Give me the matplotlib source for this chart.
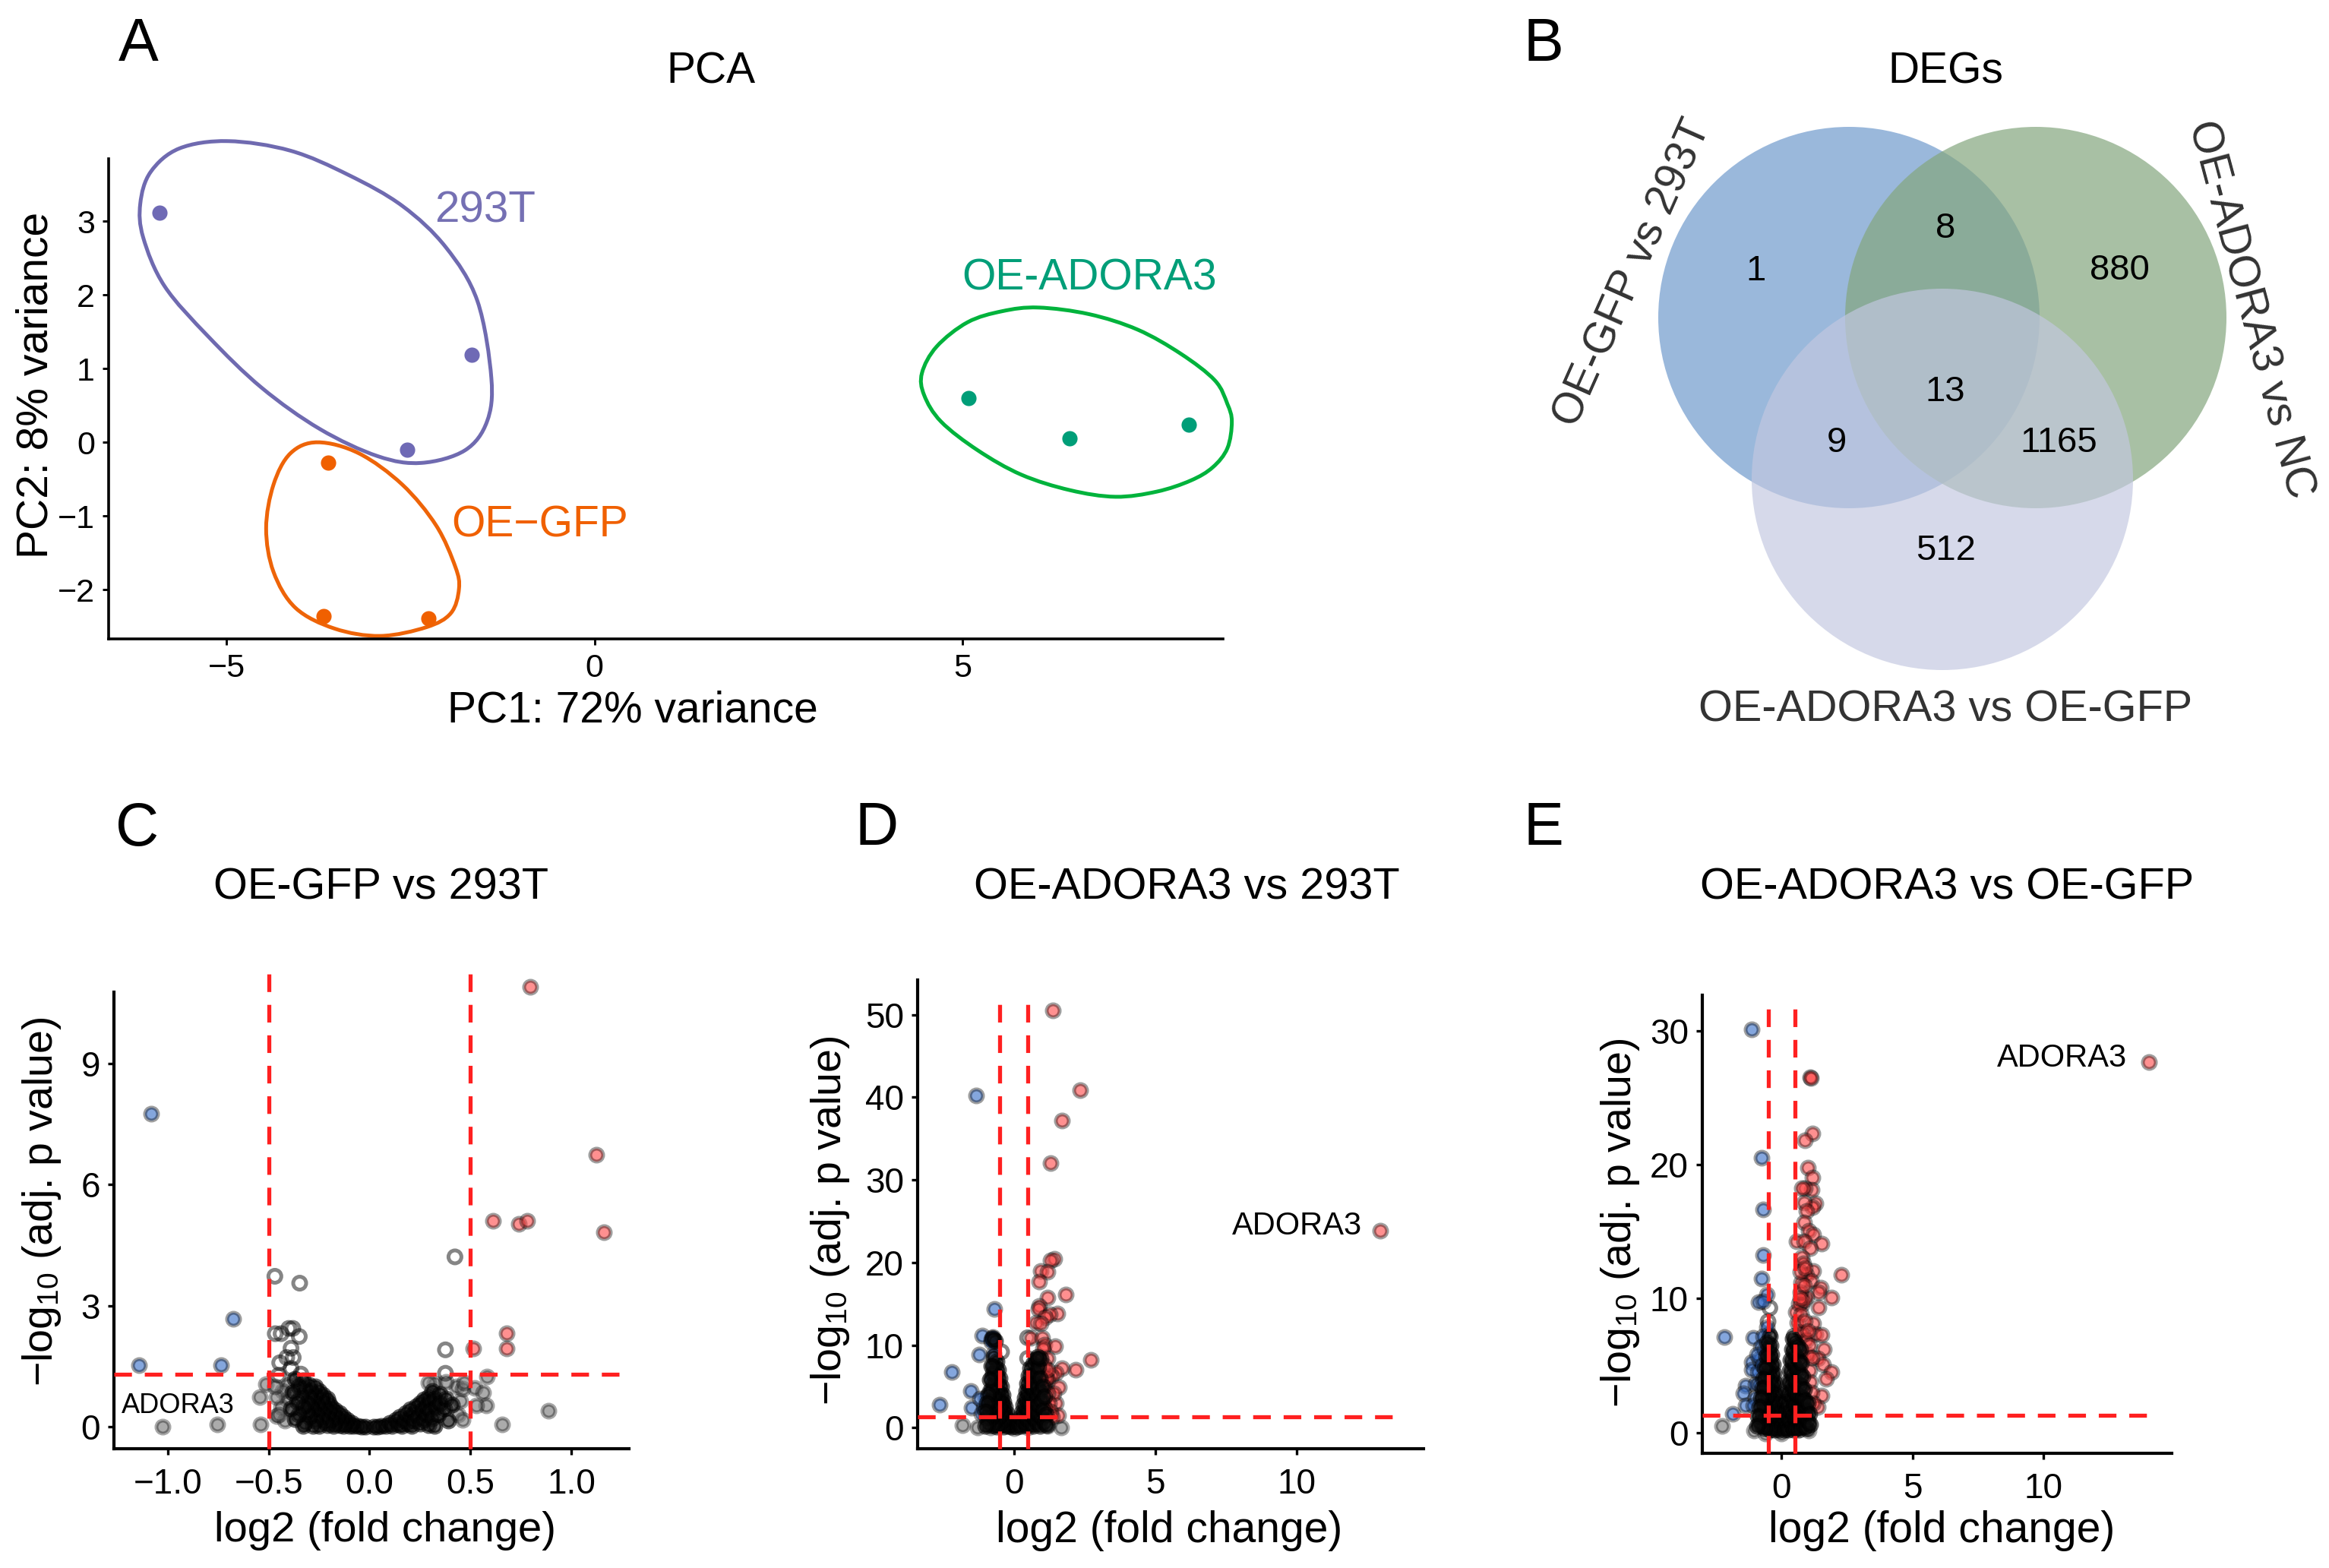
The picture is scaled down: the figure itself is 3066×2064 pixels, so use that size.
"""
Figure : PCA, Venn des DEGs et trois volcano plots (OE-GFP / OE-ADORA3 / 293T).
"""
import matplotlib
matplotlib.use("Agg")
import matplotlib.pyplot as plt
from matplotlib.patches import Circle, PathPatch
from matplotlib.path import Path

plt.rcParams["font.family"] = ["Liberation Sans", "DejaVu Sans"]
plt.rcParams["mathtext.fontset"] = "custom"
plt.rcParams["mathtext.rm"] = "Liberation Sans"
plt.rcParams["mathtext.default"] = "regular"

W, H = 3066, 2064

# -- PCA --
pca_293t = [(-5.91, 3.12), (-1.67, 1.19), (-2.54, -0.10)]
pca_gfp = [(-3.62, -0.28), (-3.68, -2.36), (-2.25, -2.39)]
pca_adora3 = [(5.08, 0.60), (6.46, 0.05), (8.08, 0.24)]

outline_293t = [(-4.98, 4.09), (-4.13, 3.96), (-3.34, 3.63), (-2.61, 3.21), (-2.02, 2.65),
                (-1.59, 1.92), (-1.40, 0.87), (-1.46, 0.28), (-1.76, -0.11), (-2.35, -0.28),
                (-2.94, -0.19), (-3.73, 0.18), (-4.52, 0.74), (-5.24, 1.43), (-5.84, 2.12),
                (-6.13, 2.78), (-6.17, 3.24), (-6.03, 3.67), (-5.64, 3.99)]
outline_gfp = [(-3.76, 0.0), (-3.2, -0.15), (-2.61, -0.575), (-2.15, -1.13), (-1.89, -1.69),
               (-1.84, -1.99), (-1.95, -2.32), (-2.28, -2.51), (-2.91, -2.63), (-3.53, -2.53),
               (-4.06, -2.25), (-4.36, -1.76), (-4.46, -1.17), (-4.36, -0.575), (-4.13, -0.15)]
outline_adora3 = [(6.03, 1.83), (6.72, 1.74), (7.38, 1.53), (7.97, 1.20), (8.43, 0.84),
                  (8.60, 0.52), (8.66, 0.28), (8.60, -0.08), (8.40, -0.34), (8.10, -0.52),
                  (7.64, -0.67), (7.08, -0.74), (6.46, -0.65), (5.80, -0.44), (5.21, -0.11),
                  (4.71, 0.28), (4.48, 0.64), (4.45, 0.94), (4.65, 1.30), (5.07, 1.63), (5.54, 1.78)]

# -- Venn --
venn_counts = ["1", "8", "880", "13", "9", "1165", "512"]
venn_labels = ["OE-GFP vs 293T", "OE-ADORA3 vs NC", "OE-ADORA3 vs OE-GFP"]

# -- Volcano C : OE-GFP vs 293T --
c_up = [(0.797, 10.89), (1.125, 6.74), (0.613, 5.11), (0.741, 5.03), (0.782, 5.11),
        (1.16, 4.82), (0.68, 2.32), (0.678, 1.95), (0.514, 1.95)]
c_down = [(-1.082, 7.76), (-0.676, 2.67), (-1.14, 1.53), (-0.737, 1.53)]
c_open = [(-0.469, 3.73), (-0.346, 3.56), (0.423, 4.21), (-0.467, 2.31), (-0.438, 2.31),
          (-0.40, 2.44), (-0.38, 2.44), (-0.348, 2.24), (-0.389, 1.95), (-0.41, 1.72),
          (-0.378, 1.72), (-0.445, 1.59), (-0.389, 1.45), (0.376, 1.91), (0.376, 1.33),
          (-0.45, 1.28), (-0.34, 1.31)]
c_ns = [(-1.026, 0.01), (-0.756, 0.06), (-0.54, 0.07), (-0.544, 0.75), (-0.514, 1.07),
        (-0.46, 0.28), (0.886, 0.41), (0.657, 0.07), (0.523, 0.97), (0.562, 0.85),
        (0.577, 0.54), (0.527, 0.54), (0.58, 1.24), (-.4, 1.05), (-.41, .68), (-.42, .15),
        (-.43, .9), (-.44, .5), (-.45, .3), (-.46, .75), (-.47, 1.0), (.43, 1.0), (.44, .3),
        (.45, .65), (.46, .18), (.46, .95), (.47, 1.1), (.32, 1.08), (.29, 1.1), (.38, 1.12)]
c_cloud = [(-.02, 0), (-.04, .01), (-.06, .02), (-.08, .03), (-.09, .1), (-.1, .02), (-.11, .17),
           (-.12, .08), (-.13, .03), (-.13, .25), (-.14, .15), (-.15, .05), (-.15, .35), (-.16, .22),
           (-.17, .42), (-.17, .1), (-.18, .3), (-.18, .03), (-.19, .5), (-.19, .18), (-.2, .6),
           (-.2, .38), (-.21, .25), (-.21, .7), (-.21, .05), (-.22, .48), (-.22, .12), (-.23, .8),
           (-.23, .6), (-.23, .33), (-.24, .2), (-.24, .7), (-.25, .9), (-.25, .45), (-.25, .03),
           (-.26, .58), (-.26, .3), (-.27, .8), (-.27, .15), (-.27, 1.0), (-.28, .65), (-.28, .42),
           (-.28, .02), (-.29, .9), (-.29, .52), (-.3, .25), (-.3, 1.05), (-.3, .75), (-.31, .38),
           (-.31, .6), (-.32, .95), (-.32, .1), (-.33, 1.15), (-.33, .5), (-.33, .03), (-.34, .78),
           (-.35, .3), (-.35, 1.0), (-.36, .62), (-.37, 1.2), (-.37, .2), (-.38, .85), (-.39, .45),
           (.02, 0), (.04, .01), (.06, .03), (.08, .02), (.1, .1), (.11, .02), (.13, .17),
           (.14, .06), (.15, .26), (.16, .03), (.17, .16), (.18, .34), (.19, .08), (.2, .25), (.2, .44),
           (.21, .02), (.22, .35), (.22, .15), (.23, .52), (.24, .25), (.25, .6), (.25, .08), (.26, .42),
           (.27, .68), (.27, .18), (.28, .3), (.28, .52), (.29, .75), (.29, .05), (.3, .62), (.3, .4),
           (.31, .9), (.31, .22), (.32, .7), (.32, .02), (.33, .5), (.34, .3), (.35, .82),
           (.35, .6), (.37, .45), (.38, .7), (.39, .15), (.41, .55)]

# -- Volcano D : OE-ADORA3 vs 293T --
d_up = [(1.39, 50.56), (2.36, 40.9), (1.71, 37.15), (1.31, 32.08), (12.98, 23.83), (1.45, 20.45),
        (1.30, 20.26), (0.96, 18.95), (1.19, 18.86), (0.91, 17.68), (1.85, 16.13), (1.2, 15.76),
        (0.91, 14.73), (0.88, 14.35), (1.54, 13.88), (1.27, 13.79), (1.11, 13.41), (0.8, 12.76),
        (0.96, 12.62), (0.6, 10.88), (1.0, 10.88), (1.08, 10.04), (1.47, 9.9), (1.03, 9.57),
        (2.73, 8.26), (2.19, 7.04), (1.70, 7.22), (1.19, 8.4), (1.5, 6.66), (1.34, 6.3), (1.19, 5.8),
        (1.6, 4.88), (1.5, 3.0), (1.57, 1.5), (1.42, 4.17), (0.9, 7), (1, 6.2), (1.1, 5), (1.2, 4.2),
        (1.25, 3), (1.3, 2), (1.35, 1.3), (1.05, 7.6), (1.15, 6), (1.2, 7), (0.8, 8.2), (0.75, 6),
        (0.9, 4.5), (1, 3), (1.1, 2.4), (0.7, 3)]
d_down = [(-1.33, 40.2), (-0.68, 14.4), (-1.11, 11.16), (-0.77, 10.88), (-1.23, 8.91), (-2.18, 6.75),
          (-1.53, 4.5), (-2.62, 2.77), (-1.48, 2.39), (-0.7, 9), (-0.75, 7.5), (-0.8, 6), (-0.85, 4.5),
          (-0.9, 3.2), (-1, 3.6), (-1.05, 2.4), (-1.15, 1.7), (-0.65, 6), (-0.8, 2.5), (-1.2, 3.5),
          (-0.75, 11), (-0.7, 10.6), (-0.8, 10.7), (-0.78, 10.4)]
d_open = [(-0.43, 9.2), (0.49, 10.9), (0.49, 8.4)]
d_ns = [(-1.81, 0.33), (-1.28, 0), (-0.82, 0), (1.68, 0), (1.19, 0.19), (0, -0.09), (0.49, 0)]
d_cloud = [(-.1, .1), (-.15, .5), (-.2, 1), (-.2, .2), (-.25, 1.8), (-.3, .5), (-.3, 2.5), (-.3, 1.3),
           (-.35, 3.2), (-.35, .1), (-.4, 2), (-.4, 4), (-.4, .9), (-.45, 3), (-.45, 5), (-.45, 1.6),
           (-.5, 6), (-.5, .3), (-.5, 4.2), (-.5, 2.5), (-.55, 7), (-.55, 1.2), (-.55, 3.4), (-.55, 5.2),
           (-.6, 8), (-.6, .1), (-.6, 2), (-.6, 4.5), (-.6, 6.3), (-.65, 3), (-.65, 7.3), (-.65, .8),
           (-.7, 5.4), (-.7, 1.6), (-.7, 8.6), (-.7, 3.8), (-.75, 2.5), (-.75, 6.6), (-.75, .3),
           (-.8, 4.6), (-.8, 1.2), (-.8, 7.5), (-.85, 3.2), (-.85, 5.8), (-.9, 2), (-.9, .5), (-.9, 4),
           (-.95, 1.2), (-.95, 3), (-1, 2), (-1, .2), (-.65, 10.5), (-.75, 10.8),
           (.12, .1), (.18, .6), (.22, 1.2), (.25, .2), (.28, 1.9), (.33, .8), (.33, 2.8), (.38, 1.5),
           (.38, 3.6), (.43, .3), (.43, 2.4), (.43, 4.5), (.48, 1.1), (.48, 3.2), (.48, 5.4), (.53, 2),
           (.53, 4), (.53, 6.3), (.58, .5), (.58, 2.9), (.58, 5), (.58, 7.2), (.63, 1.5), (.63, 3.7),
           (.63, 6), (.68, .2), (.68, 2.4), (.68, 4.6), (.68, 7.8), (.73, 1.1), (.73, 3.2), (.73, 5.5),
           (.78, 2), (.78, 6.8), (.78, 8.3), (.83, .6), (.83, 3.9), (.83, 5), (.88, 1.6), (.88, 2.8),
           (.88, 7.4), (.93, .2), (.93, 4.4), (.93, 6), (.98, 1.2), (.98, 3.3), (1.03, 2.2), (1.03, 5),
           (1.08, .6), (1.08, 3.8), (1.13, 1.6), (1.18, .3), (.95, 8.4), (.85, 8.6)]

# -- Volcano E : OE-ADORA3 vs OE-GFP --
e_up = [(14.02, 27.66), (1.08, 26.53), (1.12, 26.5), (1.17, 22.33), (0.88, 21.84), (1.0, 19.78),
        (1.18, 19.06), (1.15, 18.13), (0.88, 18.24), (0.78, 18.24), (1.28, 17.12), (1.17, 16.83),
        (0.85, 17.2), (0.95, 16.54), (0.87, 15.67), (1.03, 15.09), (1.2, 14.8), (1.53, 14.1),
        (0.57, 14.3), (0.87, 14.3), (1.08, 13.78), (0.78, 13.06), (0.82, 12.63), (1.2, 12.05),
        (2.28, 11.76), (0.95, 11.76), (1.12, 11.32), (1.5, 10.8), (1.9, 10.1), (1.42, 10.45),
        (0.95, 10.16), (1.42, 9.35), (0.78, 9.58), (1.2, 8.14), (1.28, 7.36), (1.53, 7.27),
        (1.62, 6.2), (1.37, 5.53), (1.58, 5.1), (1.9, 4.52), (1.7, 4.0), (1.53, 2.78), (1.37, 1.9),
        (0.55, 9), (0.6, 8.2), (0.65, 9.6), (0.7, 7.5), (0.75, 8.8), (0.8, 7.3), (0.85, 9.9), (0.9, 8.3),
        (0.8, 5.6), (0.95, 6.9), (1, 5.8), (1.05, 4.6), (1.1, 3.8), (1.15, 3), (1.2, 2.2), (1, 7.6),
        (0.75, 11.2), (0.7, 12), (0.72, 10.5), (0.85, 11), (0.9, 12.3), (0.72, 10), (1.05, 6.5), (1.15, 5.6)]
e_down = [(-1.15, 30.12), (-0.78, 20.53), (-0.72, 16.68), (-0.7, 13.26), (-0.77, 11.47), (-0.55, 10.31),
          (-0.88, 9.73), (-0.72, 9.79), (-2.2, 7.12), (-1.1, 7.07), (-0.55, 7.85), (-1.13, 5.24),
          (-1.13, 4.66), (-1.38, 3.5), (-1.45, 2.92), (-1.38, 2.0), (-1.88, 1.39), (-0.7, 7.2), (-0.8, 6.4),
          (-0.85, 5.5), (-0.9, 4.5), (-1, 3.6), (-1, 2.6), (-1.1, 2), (-0.95, 5.8), (-0.65, 6.2), (-0.75, 5),
          (-0.85, 3.6)]
e_open = [(-0.52, 8.28), (-0.45, 9.3), (-0.47, 7.3), (0.48, 7.2)]
e_ns = [(-2.28, 0.49), (-1.05, 0.12), (-0.63, -0.06), (0, -0.06), (1.03, 0.12)]
e_cloud = [(-.1, .2), (-.12, .9), (-.15, 1.6), (-.18, .4), (-.18, 2.3), (-.22, 1.2), (-.22, 3), (-.26, .2),
           (-.26, 2), (-.26, 3.7), (-.3, .9), (-.3, 2.8), (-.3, 4.4), (-.34, 1.6), (-.34, 3.5), (-.34, 5.1),
           (-.38, .4), (-.38, 2.4), (-.38, 4.2), (-.38, 5.8), (-.42, 1.2), (-.42, 3.1), (-.42, 4.9), (-.42, 6.5),
           (-.46, .2), (-.46, 2), (-.46, 3.8), (-.46, 5.6), (-.46, 7.2), (-.5, 1), (-.5, 2.8), (-.5, 4.5),
           (-.5, 6.2), (-.55, .4), (-.55, 1.8), (-.55, 3.4), (-.55, 5), (-.55, 6.7), (-.6, 1.1), (-.6, 2.6),
           (-.6, 4.2), (-.6, 5.7), (-.65, .3), (-.65, 1.9), (-.65, 3.4), (-.65, 4.8), (-.7, 1), (-.7, 2.7),
           (-.7, 4), (-.75, .5), (-.75, 2), (-.75, 3.3), (-.8, 1.3), (-.8, 2.6), (-.85, .7), (-.85, 1.9),
           (-.9, 1.2), (-.95, .5),
           (.1, .2), (.12, .9), (.15, 1.6), (.18, .4), (.18, 2.3), (.22, 1.2), (.22, 3), (.26, .2), (.26, 2),
           (.26, 3.8), (.3, .9), (.3, 2.8), (.3, 4.6), (.34, 1.6), (.34, 3.6), (.34, 5.4), (.38, .4), (.38, 2.5),
           (.38, 4.4), (.38, 6.2), (.42, 1.2), (.42, 3.2), (.42, 5.2), (.42, 7), (.46, .2), (.46, 2.1), (.46, 4),
           (.46, 6), (.5, 1), (.5, 3), (.5, 4.9), (.5, 6.8), (.55, .3), (.55, 2), (.55, 3.8), (.55, 5.7), (.6, 1.1),
           (.6, 2.8), (.6, 4.6), (.6, 6.5), (.65, .2), (.65, 1.9), (.65, 3.6), (.65, 5.4), (.7, 1), (.7, 2.7),
           (.7, 4.4), (.7, 6.2), (.75, .4), (.75, 1.8), (.75, 3.5), (.75, 5.2), (.8, 1.1), (.8, 2.6), (.8, 4.2),
           (.85, .5), (.85, 1.9), (.85, 3.2), (.9, 1.2), (.9, 2.4), (.95, .3), (.95, 1.6), (1, .8), (1, 2.2),
           (1.05, 1.4), (1.1, .6)]

YLABEL = "\u2212log$_{10}$ (adj. p value)"
XLABEL = "log2 (fold change)"


def add_axes_px(fig, left, top, right, bottom):
    return fig.add_axes([left / W, 1 - bottom / H, (right - left) / W, (bottom - top) / H])


def ftext(fig, x, y, s, **kw):
    kw.setdefault("ha", "center")
    kw.setdefault("va", "center")
    rot = kw.get("rotation", 0)
    if rot == 0:
        y += 5
    elif rot == 90:
        x += 3
    return fig.text(x / W, 1 - y / H, s, **kw)


def style_axes(ax, lw, ticksize, padx=12):
    for side in ["top", "right"]:
        ax.spines[side].set_visible(False)
    for side in ["left", "bottom"]:
        ax.spines[side].set_linewidth(lw)
    ax.tick_params(width=lw * 0.8, length=6, labelsize=ticksize, pad=7)
    ax.tick_params(axis="x", pad=padx)


def smooth_outline(ax, pts, color):
    # contour ferme : Catmull-Rom converti en courbes de Bezier
    n = len(pts)
    verts = [pts[0]]
    codes = [Path.MOVETO]
    for i in range(n):
        p0, p1, p2, p3 = pts[i - 1], pts[i], pts[(i + 1) % n], pts[(i + 2) % n]
        c1 = (p1[0] + (p2[0] - p0[0]) / 6, p1[1] + (p2[1] - p0[1]) / 6)
        c2 = (p2[0] - (p3[0] - p1[0]) / 6, p2[1] - (p3[1] - p1[1]) / 6)
        verts += [c1, c2, p2]
        codes += [Path.CURVE4] * 3
    ax.add_patch(PathPatch(Path(verts, codes), facecolor="none", edgecolor=color,
                           linewidth=3.6, clip_on=False, zorder=2))


def points(ax, pts, face, edge, lw=3.6):
    xs = [p[0] for p in pts]
    ys = [p[1] for p in pts]
    ax.scatter(xs, ys, s=150, facecolors=face, edgecolors=edge, linewidths=lw,
               clip_on=False, zorder=3)


def volcano(ax, cloud, ns, op, down, up, xlim, ylim, vtop, hright, xticks, yticks):
    points(ax, ns, (0.45, 0.45, 0.45, 0.6), (0, 0, 0, 0.35))
    points(ax, op, "none", (0, 0, 0, 0.48))
    points(ax, down, (0.2, 0.42, 0.78, 0.6), (0, 0, 0, 0.38))
    points(ax, up, (1, 0.25, 0.25, 0.58), (0, 0, 0, 0.38))
    # le nuage dense passe au-dessus : masse presque noire
    points(ax, cloud, (0.05, 0.05, 0.05, 0.65), (0, 0, 0, 0.6))
    dash = (0, (4.4, 3.2))
    for x in [-0.5, 0.5]:
        ax.plot([x, x], [ylim[0], vtop], color="#FF2020", lw=3.8, ls=dash, clip_on=False, zorder=4)
    ax.plot([xlim[0], hright], [1.3, 1.3], color="#FF2020", lw=3.8, ls=dash, clip_on=False, zorder=4)
    ax.set_xlim(*xlim)
    ax.set_ylim(*ylim)
    ax.set_xticks(xticks)
    ax.set_yticks(yticks)
    style_axes(ax, 3.0, 33)


fig = plt.figure(figsize=(W / 100, H / 100), dpi=100, facecolor="white")

# -- A : PCA --
ax = add_axes_px(fig, 143, 209, 1610, 841)
smooth_outline(ax, outline_293t, "#6F6AB0")
smooth_outline(ax, outline_gfp, "#EE6408")
smooth_outline(ax, outline_adora3, "#00B33C")
for pts, col in [(pca_293t, "#6F6AB5"), (pca_gfp, "#F06000"), (pca_adora3, "#009E78")]:
    ax.scatter([p[0] for p in pts], [p[1] for p in pts], s=210, color=col, linewidths=0,
               clip_on=False, zorder=3)
ax.set_xlim(-6.6, 8.54)
ax.set_ylim(-2.67, 3.85)
ax.set_xticks([-5, 0, 5])
ax.set_yticks([-2, -1, 0, 1, 2, 3])
style_axes(ax, 2.6, 31, padx=8)
ax.text(-2.17, 3.14, "293T", color="#7570B3", fontsize=42, ha="left", va="center")
ax.text(-1.94, -1.13, "OE\u2212GFP", color="#F06000", fontsize=41, ha="left", va="center")
ax.text(4.99, 2.23, "OE-ADORA3", color="#009E78", fontsize=41, ha="left", va="center")
ftext(fig, 936, 89, "PCA", fontsize=41)
ftext(fig, 833, 931, "PC1: 72% variance", fontsize=41)
ftext(fig, 45, 507, "PC2: 8% variance", fontsize=41, rotation=90)

# -- B : Venn --
ax = add_axes_px(fig, 2100, 120, 3020, 900)
ax.set_xlim(2100, 3020)
ax.set_ylim(900, 120)
ax.axis("off")
ax.add_patch(Circle((2434, 418), 251, facecolor="#709ACD", alpha=0.7, linewidth=0))
ax.add_patch(Circle((2680, 418), 251, facecolor="#84A67E", alpha=0.7, linewidth=0))
ax.add_patch(Circle((2557, 631), 251, facecolor="#C3C8E0", alpha=0.68, linewidth=0))
venn_pos = [(2311, 357), (2561, 301), (2790, 356), (2561, 516), (2418, 583), (2710, 583), (2562, 725)]
for (x, y), s in zip(venn_pos, venn_counts):
    ax.text(x, y, s, fontsize=34, ha="center", va="center", color="black")
ftext(fig, 2561, 89, "DEGs", fontsize=41)
ftext(fig, 2150, 360, venn_labels[0], fontsize=41, rotation=66, color="#333333", rotation_mode="anchor")
ftext(fig, 2962, 408, venn_labels[1], fontsize=41.5, rotation=-75, color="#333333", rotation_mode="anchor")
ftext(fig, 2561, 930, venn_labels[2], fontsize=41.5, color="#333333")

# -- C --
ax = add_axes_px(fig, 150, 1306, 828, 1907)
volcano(ax, c_cloud, c_ns, c_open, c_down, c_up, (-1.266, 1.285), (-0.537, 10.76), 11.43, 1.28,
        [-1.0, -0.5, 0.0, 0.5, 1.0], [0, 3, 6, 9])
ax.text(-1.23, 0.53, "ADORA3", fontsize=26, ha="left", va="center", zorder=5)
ftext(fig, 502, 1163, "OE-GFP vs 293T", fontsize=41.5)
ftext(fig, 507, 2010, XLABEL, fontsize=40.5)
ftext(fig, 52, 1582, YLABEL, fontsize=40, rotation=90)

# -- D --
ax = add_axes_px(fig, 1208, 1290, 1874, 1907)
volcano(ax, d_cloud, d_ns, d_open, d_down, d_up, (-3.4, 14.5), (-2.53, 54.2), 52.5, 13.76,
        [0, 5, 10], [0, 10, 20, 30, 40, 50])
ax.text(12.33, 24.4, "ADORA3", fontsize=30, ha="right", va="center", zorder=5)
ftext(fig, 1562, 1163, "OE-ADORA3 vs 293T", fontsize=41.5)
ftext(fig, 1539, 2010, XLABEL, fontsize=41)
ftext(fig, 1090, 1607, YLABEL, fontsize=40, rotation=90)

# -- E --
ax = add_axes_px(fig, 2241, 1310, 2859, 1913)
volcano(ax, e_cloud, e_ns, e_open, e_down, e_up, (-3.03, 14.9), (-1.56, 32.67), 31.7, 14.37,
        [0, 5, 10], [0, 10, 20, 30])
ax.text(13.2, 27.95, "ADORA3", fontsize=30, ha="right", va="center", zorder=5)
ftext(fig, 2563, 1163, "OE-ADORA3 vs OE-GFP", fontsize=41.5)
ftext(fig, 2556, 2010, XLABEL, fontsize=41)
ftext(fig, 2130, 1610, YLABEL, fontsize=40, rotation=90)

# -- lettres de panneau --
for s, x, y in [("A", 156, 54), ("B", 2006, 54), ("C", 152, 1087), ("D", 1126, 1087), ("E", 2005, 1087)]:
    ftext(fig, x, y, s, fontsize=57, ha="left")

fig.savefig("out.png", dpi=100)
